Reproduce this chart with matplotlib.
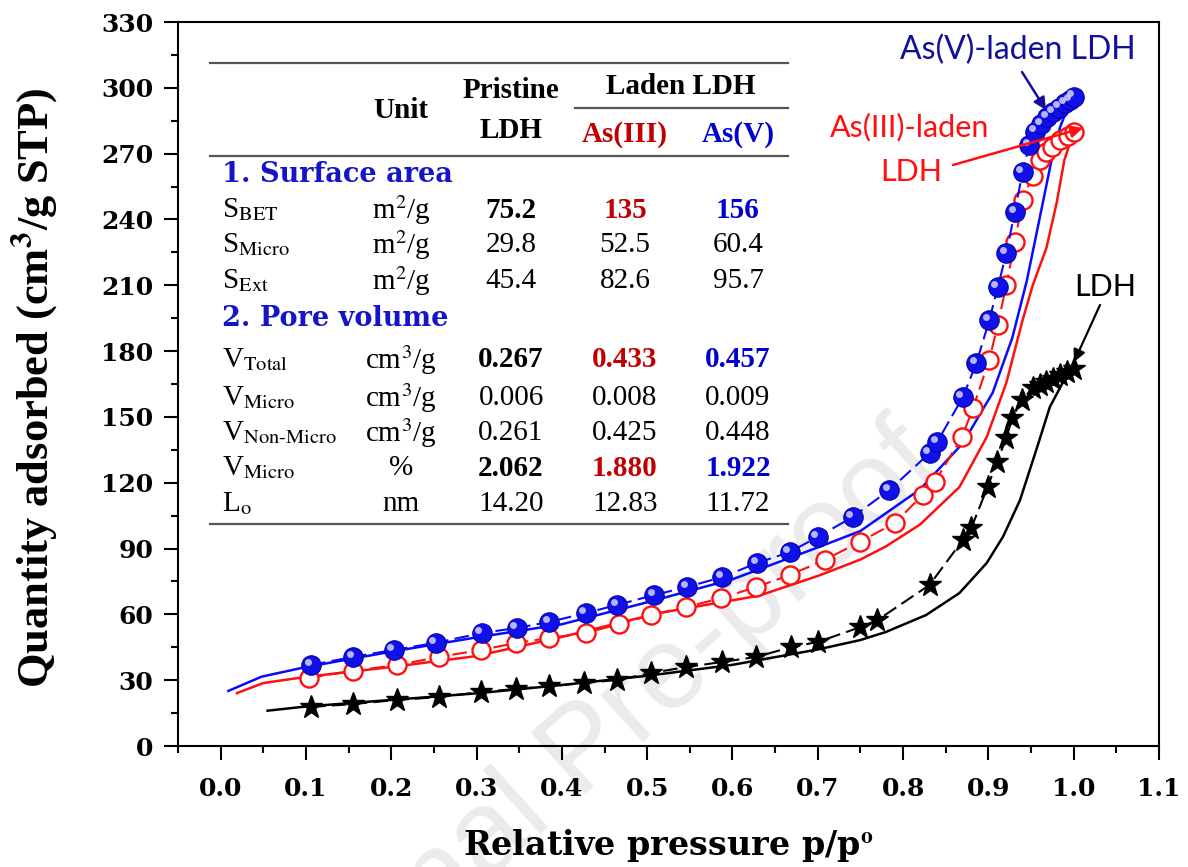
import matplotlib
matplotlib.use("Agg")
import matplotlib.pyplot as plt
from matplotlib.ticker import MultipleLocator
from matplotlib.transforms import offset_copy

# Pristine LDH - adsorption (stars, dashed) and desorption (solid)
ldh_ads_x = [0.106, 0.155, 0.207, 0.256, 0.305, 0.346, 0.385, 0.426, 0.465, 0.505,
             0.546, 0.588, 0.628, 0.669, 0.700, 0.750, 0.770, 0.831, 0.870, 0.880,
             0.899, 0.910, 0.921, 0.928, 0.939, 0.952, 0.960, 0.968, 0.976, 0.984,
             0.992, 1.000]
ldh_ads_y = [17.8, 19.1, 21.0, 22.3, 24.6, 26.0, 27.3, 28.7, 30.1, 33.3,
             36.0, 38.3, 40.6, 45.1, 47.4, 54.2, 57.4, 73.4, 93.9, 99.4,
             118.0, 129.4, 140.4, 149.5, 157.7, 163.0, 164.5, 166.0, 167.5, 169.0,
             170.5, 172.0]
ldh_des_x = [0.055, 0.10, 0.20, 0.30, 0.40, 0.50, 0.60, 0.70, 0.75, 0.78, 0.827,
             0.866, 0.898, 0.917, 0.937, 0.957, 0.972, 0.987, 1.000]
ldh_des_y = [16.1, 18.0, 21.0, 24.0, 27.8, 32.0, 37.0, 44.0, 48.3, 52.0, 59.7,
             69.7, 83.4, 95.3, 112.0, 136.0, 154.5, 165.5, 171.0]

# As(III)-laden LDH
as3_ads_x = [0.103, 0.155, 0.207, 0.256, 0.305, 0.346, 0.385, 0.428, 0.467, 0.505,
             0.546, 0.587, 0.628, 0.667, 0.708, 0.749, 0.790, 0.823, 0.837, 0.869,
             0.882, 0.901, 0.911, 0.921, 0.931, 0.940, 0.952, 0.960, 0.968, 0.975,
             0.984, 0.993, 1.000]
as3_ads_y = [31.0, 34.3, 36.9, 40.6, 43.8, 46.9, 49.2, 51.5, 55.6, 59.7,
             63.4, 67.4, 72.5, 77.9, 84.8, 93.0, 101.6, 114.4, 120.3, 140.8,
             154.0, 176.0, 192.0, 210.0, 229.7, 248.9, 260.0, 267.0, 270.7, 273.0,
             276.0, 278.0, 280.0]
as3_des_x = [0.019, 0.05, 0.10, 0.20, 0.30, 0.40, 0.514, 0.631, 0.70, 0.75, 0.78,
             0.82, 0.866, 0.898, 0.921, 0.940, 0.952, 0.968, 0.980, 0.989, 1.000]
as3_des_y = [24.1, 28.7, 31.5, 36.0, 41.0, 49.7, 60.6, 68.5, 77.5, 85.0, 91.0,
             101.0, 118.0, 140.8, 165.5, 194.0, 210.0, 227.0, 247.5, 267.0, 280.0]

# As(V)-laden LDH
as5_ads_x = [0.106, 0.155, 0.203, 0.252, 0.306, 0.347, 0.385, 0.428, 0.465, 0.508,
             0.547, 0.588, 0.629, 0.667, 0.700, 0.741, 0.784, 0.831, 0.840, 0.870,
             0.886, 0.901, 0.911, 0.921, 0.931, 0.940, 0.948, 0.955, 0.962, 0.969,
             0.976, 0.983, 0.990, 0.996, 1.000]
as5_ads_y = [36.9, 40.6, 43.8, 47.0, 51.5, 53.8, 56.5, 60.6, 64.3, 68.8,
             72.5, 77.0, 83.4, 88.4, 95.3, 104.4, 116.7, 133.5, 138.6, 159.0,
             174.6, 194.0, 209.0, 224.7, 243.4, 261.6, 274.0, 280.0, 283.5, 286.5,
             289.0, 291.0, 293.0, 294.5, 296.0]
as5_des_x = [0.009, 0.048, 0.10, 0.20, 0.30, 0.40, 0.50, 0.60, 0.70, 0.75, 0.82,
             0.87, 0.905, 0.928, 0.945, 0.958, 0.974, 0.984, 0.990, 1.000]
as5_des_y = [25.1, 31.6, 36.0, 43.0, 49.5, 55.5, 65.5, 76.0, 90.5, 98.0, 117.0,
             138.0, 161.0, 186.0, 212.0, 236.6, 267.0, 282.0, 288.0, 296.0]

# inset table
row_labels = [r"S$_{\mathrm{BET}}$", r"S$_{\mathrm{Micro}}$", r"S$_{\mathrm{Ext}}$",
              r"V$_{\mathrm{Total}}$", r"V$_{\mathrm{Micro}}$", r"V$_{\mathrm{Non\text{-}Micro}}$",
              r"V$_{\mathrm{Micro}}$", r"L$_{\mathrm{o}}$"]
units = [r"m$^{2}$/g", r"m$^{2}$/g", r"m$^{2}$/g", r"cm$^{3}$/g", r"cm$^{3}$/g",
         r"cm$^{3}$/g", "%", "nm"]
pristine = ["75.2", "29.8", "45.4", "0.267", "0.006", "0.261", "2.062", "14.20"]
laden_as3 = ["135", "52.5", "82.6", "0.433", "0.008", "0.425", "1.880", "12.83"]
laden_as5 = ["156", "60.4", "95.7", "0.457", "0.009", "0.448", "1.922", "11.72"]
bold_rows = [0, 3, 6]
row_py = [210, 245, 281, 360, 398, 433, 468, 504]

W, H = 1188, 867
plt.rcParams['mathtext.fontset'] = 'stix'


def fx(px):
    return px / W


def fy(py):
    return 1 - py / H


fig = plt.figure(figsize=(W / 100, H / 100), dpi=100)
ax = fig.add_axes([fx(178), fy(746), fx(1159) - fx(178), fy(22) - fy(746)])
ax.set_facecolor('none')

blue = '#0a0aff'
red = '#ff1010'

# desorption branches (solid)
ax.plot(ldh_des_x, ldh_des_y, color='black', lw=1.8, zorder=2)
ax.plot(as3_des_x, as3_des_y, color=red, lw=1.8, zorder=2)
ax.plot(as5_des_x, as5_des_y, color=blue, lw=1.8, zorder=2)

# adsorption branches (dashed with markers)
ax.plot(ldh_ads_x, ldh_ads_y, color='black', lw=1.5, ls=(0, (7, 3)), zorder=3)
ax.plot(ldh_ads_x, ldh_ads_y, ls='none', marker='*', ms=17, color='black', zorder=4)

ax.plot(as3_ads_x, as3_ads_y, color=red, lw=1.5, ls=(0, (7, 3)), zorder=3)
ax.plot(as3_ads_x, as3_ads_y, ls='none', marker='o', ms=13, mfc='white',
        mec=red, mew=1.7, zorder=4)

ax.plot(as5_ads_x, as5_ads_y, color=blue, lw=1.5, ls=(0, (7, 3)), zorder=5)
ax.plot(as5_ads_x, as5_ads_y, ls='none', marker='o', ms=14, mfc='#1010e8',
        mec='#0000b0', mew=0.8, zorder=6)
shine = offset_copy(ax.transData, fig=fig, x=-2.4, y=2.4, units='points')
ax.plot(as5_ads_x, as5_ads_y, ls='none', marker='o', ms=5, mfc='#c8c8ff',
        mec='none', alpha=0.9, transform=shine, zorder=7)

ax.set_xlim(-0.05, 1.1)
ax.set_ylim(0, 330)
ax.xaxis.set_major_locator(MultipleLocator(0.1))
ax.xaxis.set_minor_locator(MultipleLocator(0.05))
ax.yaxis.set_major_locator(MultipleLocator(30))
ax.yaxis.set_minor_locator(MultipleLocator(15))
ax.xaxis.set_major_formatter(matplotlib.ticker.FormatStrFormatter('%.1f'))
ax.tick_params(which='both', direction='out', width=1.5, top=False, right=False)
ax.tick_params(which='major', length=10)
ax.tick_params(which='minor', length=5)
ax.tick_params(axis='x', pad=12)
ax.tick_params(axis='y', pad=8)
for lab in ax.get_xticklabels() + ax.get_yticklabels():
    lab.set_fontfamily('DejaVu Serif')
    lab.set_fontweight('bold')
    lab.set_fontsize(18)
for sp in ax.spines.values():
    sp.set_linewidth(1.5)

fig.text(fx(668), fy(846), r"Relative pressure p/p$^{\mathbf{o}}$", ha='center',
         va='center', fontsize=24, fontweight='bold', family='DejaVu Serif')
fig.text(fx(35), fy(388), r"Quantity adsorbed (cm$^{\mathbf{3}}$/g STP)", ha='center',
         va='center', rotation=90, fontsize=32, fontweight='bold',
         family='Liberation Serif')

# watermark
ax.text(fx(945), fy(470), "Journal Pre-proof", transform=fig.transFigure,
        rotation=42, rotation_mode='anchor', ha='right', va='baseline',
        fontsize=85, color='#ebebeb', family='Liberation Sans', zorder=0.5,
        clip_on=False)

# table
serif = 'Liberation Serif'
dark_red = '#c00000'
tab_blue = '#0000d0'
c_unit, c_pri, c_as3, c_as5 = 401, 511, 625, 738

for y in (63, 156, 524):
    fig.add_artist(plt.Line2D([fx(210), fx(788)], [fy(y), fy(y)], color='#555555', lw=1.6))
fig.add_artist(plt.Line2D([fx(575), fx(788)], [fy(108), fy(108)], color='#555555', lw=1.6))

hdr = dict(ha='center', va='center', fontsize=21, fontweight='bold', family=serif)
fig.text(fx(c_unit), fy(110), "Unit", **hdr)
fig.text(fx(c_pri), fy(91), "Pristine", **hdr)
fig.text(fx(c_pri), fy(131), "LDH", **hdr)
fig.text(fx(681), fy(87), "Laden LDH", **hdr)
fig.text(fx(c_as3), fy(134), "As(III)", color=dark_red, **hdr)
fig.text(fx(c_as5), fy(134), "As(V)", color=tab_blue, **hdr)

sec = dict(ha='left', va='center', fontsize=19.5, fontweight='bold',
           family='DejaVu Serif', color='#1515c8')
fig.text(fx(222), fy(175), "1. Surface area", **sec)
fig.text(fx(222), fy(319), "2. Pore volume", **sec)

for i, py in enumerate(row_py):
    fig.text(fx(222), fy(py), row_labels[i], ha='left', va='center', fontsize=21,
             family=serif)
    fig.text(fx(c_unit), fy(py), units[i], ha='center', va='center', fontsize=21,
             family=serif)
    w = 'bold' if i in bold_rows else 'normal'
    fig.text(fx(c_pri), fy(py), pristine[i], ha='center', va='center', fontsize=21,
             family=serif, fontweight=w)
    fig.text(fx(c_as3), fy(py), laden_as3[i], ha='center', va='center', fontsize=21,
             family=serif, fontweight=w, color=dark_red if w == 'bold' else 'black')
    fig.text(fx(c_as5), fy(py), laden_as5[i], ha='center', va='center', fontsize=21,
             family=serif, fontweight=w, color=tab_blue if w == 'bold' else 'black')

# curve annotations
hand = 'Lato'
navy = '#10109a'
fig.text(fx(1018), fy(50), "As(V)-laden LDH", ha='center', va='center',
         fontsize=23, color=navy, family=hand)
fig.text(fx(910), fy(127), "As(III)-laden", ha='center', va='center', fontsize=22,
         color=red, family=hand)
fig.text(fx(911), fy(172), "LDH", ha='center', va='center', fontsize=22,
         color=red, family=hand)
fig.text(fx(1105), fy(287), "LDH", ha='center', va='center', fontsize=22,
         color='black', family=hand)


def arrow(tail, head, color, lw=1.8):
    ax.annotate("", xy=(fx(head[0]), fy(head[1])), xycoords='figure fraction',
                xytext=(fx(tail[0]), fy(tail[1])), textcoords='figure fraction',
                arrowprops=dict(arrowstyle='-|>', color=color, lw=lw,
                                mutation_scale=18, shrinkA=0, shrinkB=0),
                zorder=10)


arrow((1022, 72), (1046, 110), navy)
arrow((953, 165), (1083, 128), red)
arrow((1100, 305), (1074, 362), 'black', lw=1.6)

fig.savefig("out.png", dpi=100)
